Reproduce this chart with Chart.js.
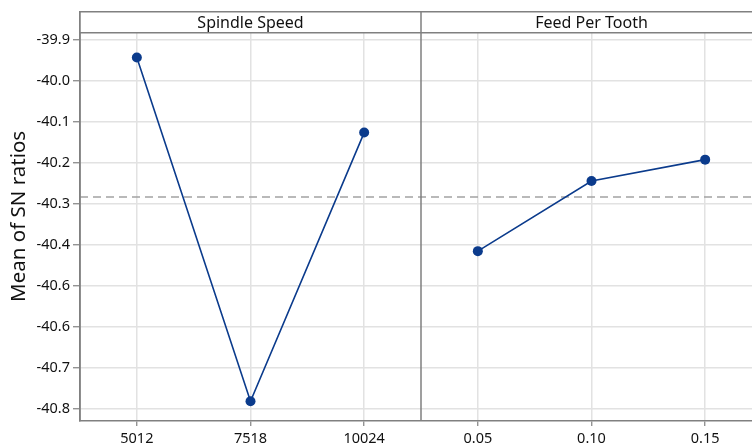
<!DOCTYPE html>
<html>
<head>
<meta charset="utf-8">
<script src="https://cdn.jsdelivr.net/npm/chart.js@4"></script>
<style>
html,body{margin:0;padding:0;overflow:hidden;background:#fff;width:752px;height:446px;}
canvas{display:block;}
</style>
</head>
<body>
<canvas id="c" width="780" height="446"></canvas>
<script>
const panelTitles = ['Spindle Speed', 'Feed Per Tooth'];
const spindleLevels = ['5012', '7518', '10024'];
const feedLevels = ['0.05', '0.10', '0.15'];
const spindleMeans = [-39.943, -40.781, -40.126];
const feedMeans = [-40.415, -40.244, -40.192];
const overallMean = -40.283;
const yTickValues = [-39.9, -40.0, -40.1, -40.2, -40.3, -40.4, -40.5, -40.6, -40.7, -40.8];
const yTickLabels = ['-39.9', '-40.0', '-40.1', '-40.2', '-40.3', '-40.4', '-40.6', '-40.6', '-40.7', '-40.8'];
const yTitle = 'Mean of SN ratios';

const categories = spindleLevels.concat(feedLevels);
const spindleData = spindleMeans.concat(feedLevels.map(() => null));
const feedData = spindleLevels.map(() => null).concat(feedMeans);

const FONT = '"Noto Sans", "Open Sans", sans-serif';
const FRAME = '#808080';
const GRID = '#e2e2e2';
const BLUE = '#0b3b8c';
const STRIP_H = 21;

const overlay = {
  id: 'overlay',
  beforeDatasetsDraw(chart) {
    const {ctx, chartArea: a, scales: {y}} = chart;
    const py = y.getPixelForValue(overallMean);
    ctx.save();
    ctx.strokeStyle = '#a3a3a3';
    ctx.lineWidth = 1.6;
    ctx.setLineDash([8, 5]);
    ctx.beginPath();
    ctx.moveTo(a.left, py);
    ctx.lineTo(a.right, py);
    ctx.stroke();
    ctx.restore();
  },
  afterDraw(chart) {
    const {ctx, chartArea: a, scales: {x}} = chart;
    const n = spindleLevels.length;
    const divX = (x.getPixelForValue(n - 1) + x.getPixelForValue(n)) / 2;
    ctx.save();
    ctx.fillStyle = '#fff';
    ctx.fillRect(a.left, a.top, a.right - a.left, STRIP_H);
    ctx.strokeStyle = FRAME;
    ctx.lineWidth = 1.5;
    ctx.beginPath();
    ctx.moveTo(a.left, a.top); ctx.lineTo(a.right, a.top);
    ctx.moveTo(a.left, a.top + STRIP_H); ctx.lineTo(a.right, a.top + STRIP_H);
    ctx.moveTo(a.left, a.top); ctx.lineTo(a.left, a.bottom);
    ctx.moveTo(a.right, a.top); ctx.lineTo(a.right, a.bottom);
    ctx.moveTo(divX, a.top); ctx.lineTo(divX, a.bottom);
    ctx.stroke();
    ctx.fillStyle = '#111';
    ctx.font = '16px ' + FONT;
    ctx.textAlign = 'center';
    ctx.textBaseline = 'middle';
    ctx.fillText(panelTitles[0], (a.left + divX) / 2, a.top + STRIP_H / 2 + 1);
    ctx.fillText(panelTitles[1], (divX + a.right) / 2, a.top + STRIP_H / 2 + 1);
    ctx.restore();
  }
};

new Chart(document.getElementById('c'), {
  type: 'line',
  data: {
    labels: categories,
    datasets: [
      { data: spindleData, borderColor: BLUE, backgroundColor: BLUE, borderWidth: 1.6,
        pointRadius: 5, pointHoverRadius: 5, pointBorderWidth: 0, tension: 0, spanGaps: false },
      { data: feedData, borderColor: BLUE, backgroundColor: BLUE, borderWidth: 1.6,
        pointRadius: 5, pointHoverRadius: 5, pointBorderWidth: 0, tension: 0, spanGaps: false }
    ]
  },
  options: {
    responsive: false,
    animation: false,
    events: [],
    layout: { padding: { top: 10, right: 18, left: 0, bottom: 0 } },
    plugins: { legend: { display: false }, tooltip: { enabled: false } },
    scales: {
      x: {
        type: 'category',
        offset: true,
        grid: { offset: false, color: GRID, lineWidth: 1.5, tickColor: FRAME, tickLength: 5, tickWidth: 1.2 },
        border: { display: true, color: FRAME, width: 1.5 },
        ticks: { color: '#111', font: { family: FONT, size: 14.5 }, padding: 4, maxRotation: 0, autoSkip: false },
        afterFit(s) { s.height = 25; }
      },
      y: {
        type: 'linear',
        min: -40.8291,
        max: -39.8313,
        afterBuildTicks(s) { s.ticks = yTickValues.map(v => ({ value: v })); },
        grid: { color: GRID, lineWidth: 1.5, tickColor: FRAME, tickLength: 7, tickWidth: 1.2 },
        border: { display: true, color: FRAME, width: 1.5 },
        ticks: {
          color: '#111', font: { family: FONT, size: 14.5 }, padding: 3,
          callback(v, i) { return yTickLabels[i]; }
        },
        title: { display: true, text: yTitle, color: '#111', font: { family: FONT, size: 20.5 }, padding: { top: 7, bottom: 0 } },
        afterFit(s) { s.width = 80; }
      }
    }
  },
  plugins: [overlay]
});
</script>
</body>
</html>
